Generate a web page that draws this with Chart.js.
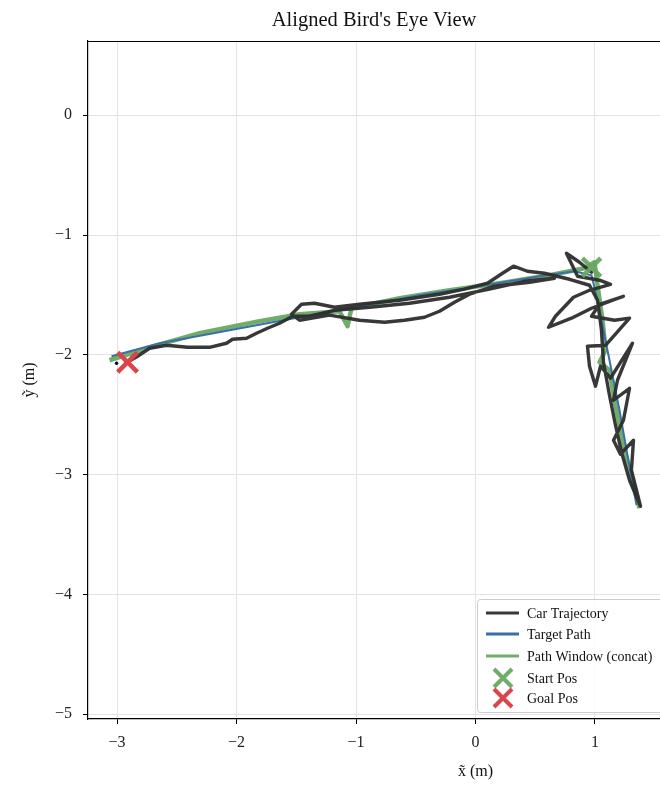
<!DOCTYPE html>
<html>
<head>
<meta charset="utf-8">
<script src="https://cdn.jsdelivr.net/npm/chart.js@4"></script>
<style>
html,body{margin:0;padding:0;background:#fff;overflow:hidden;}
#wrap{width:660px;height:788px;position:relative;}
</style>
</head>
<body>
<div id="wrap"><canvas id="c" width="660" height="788"></canvas></div>
<script>
// ---- data (metres) ----
const carX = [0.971,0.870,0.761,0.854,1.038,1.130,0.954,0.820,0.669,0.611,0.803,0.971,1.238,1.038,0.971,1.163,1.289,1.088,0.937,0.954,1.004,1.046,1.130,1.314,1.188,1.155,1.289,1.238,1.155,1.213,1.322,1.305,1.381,1.289,1.222,1.172,1.121,1.071,1.054,1.021,0.954,0.787,0.577,0.435,0.318,0.226,0.100,-0.092,-0.301,-0.636,-0.971,-1.180,-1.347,-1.456,-1.540,-1.473,-1.222,-0.971,-0.761,-0.594,-0.427,-0.301,-0.176,-0.050,0.159,0.452,0.661,0.410,0.117,-0.218,-0.552,-0.887,-1.180,-1.389,-1.531,-1.640,-1.741,-1.833,-1.916,-2.033,-2.084,-2.226,-2.410,-2.586,-2.728,-2.828,-2.929];
const carY = [-1.310,-1.227,-1.152,-1.344,-1.377,-1.411,-1.461,-1.519,-1.678,-1.770,-1.694,-1.611,-1.511,-1.578,-1.678,-1.711,-1.694,-1.920,-1.928,-2.095,-2.262,-2.095,-2.195,-1.903,-2.212,-2.379,-2.279,-2.546,-2.713,-2.830,-2.713,-2.963,-3.264,-3.047,-2.813,-2.588,-2.337,-2.062,-1.795,-1.544,-1.419,-1.369,-1.319,-1.302,-1.260,-1.319,-1.402,-1.452,-1.494,-1.544,-1.578,-1.603,-1.569,-1.578,-1.661,-1.711,-1.669,-1.711,-1.728,-1.711,-1.686,-1.636,-1.561,-1.494,-1.427,-1.394,-1.361,-1.386,-1.452,-1.519,-1.569,-1.603,-1.628,-1.678,-1.678,-1.736,-1.778,-1.820,-1.861,-1.870,-1.903,-1.937,-1.937,-1.920,-1.945,-2.012,-2.070];
const carEnd = [-3.004, -2.070];

const targetX = [-3.046,-2.644,-2.059,-1.473,-0.971,-0.469,0.033,0.536,0.828,0.971,1.021,1.071,1.138,1.205,1.272,1.347];
const targetY = [-2.012,-1.903,-1.795,-1.686,-1.594,-1.503,-1.427,-1.344,-1.302,-1.336,-1.544,-1.795,-2.129,-2.462,-2.838,-3.255];

const windowX = [-3.063,-2.728,-2.310,-1.808,-1.473,-1.138,-1.071,-1.038,-0.636,-0.218,0.201,0.619,0.912,0.996,1.021,1.063,1.088,1.038,1.121,1.163,1.247,1.314,1.372];
const windowY = [-2.045,-1.937,-1.820,-1.720,-1.661,-1.636,-1.761,-1.611,-1.528,-1.461,-1.402,-1.336,-1.277,-1.227,-1.419,-1.711,-1.962,-2.062,-2.129,-2.379,-2.796,-3.047,-3.280];

const startPos = [0.971, -1.269];
const goalPos = [-2.912, -2.062];

const xTicks = [-3,-2,-1,0,1];
const yTicks = [0,-1,-2,-3,-4,-5];

const labels = ["Car Trajectory","Target Path","Path Window (concat)","Start Pos","Goal Pos"];
const titleText = "Aligned Bird's Eye View";
const xTitle = "x\u0303 (m)";
const yTitle = "y\u0303 (m)";

// ---- styles ----
const C_BLACK = "rgba(45,45,45,0.95)";
const C_BLUE = "#3b6fa6";
const C_GREEN = "rgba(104,168,98,0.95)";
const C_RED = "#d9454a";
const FONT = "'Liberation Serif', 'DejaVu Serif', serif";

const pts = (xs, ys) => xs.map((x, i) => ({x: x, y: ys[i]}));
const minus = v => String(v).replace('-', '\u2212');

const overlay = {
  id: 'overlay',
  afterDraw(chart) {
    const ctx = chart.ctx, a = chart.chartArea;
    ctx.save();
    // top border
    ctx.strokeStyle = '#000'; ctx.lineWidth = 1.2;
    ctx.beginPath(); ctx.moveTo(a.left, a.top + 0.5); ctx.lineTo(a.right, a.top + 0.5); ctx.stroke();
    // title
    ctx.fillStyle = '#111';
    ctx.font = "20.5px " + FONT;
    ctx.textAlign = 'center'; ctx.textBaseline = 'middle';
    ctx.fillText(titleText, (a.left + a.right) / 2, 21);
    // axis titles
    ctx.font = "16px " + FONT;
    ctx.fillText(xTitle, chart.scales.x.getPixelForValue(0), 772);
    ctx.save();
    ctx.translate(30, (a.top + a.bottom) / 2);
    ctx.rotate(-Math.PI / 2);
    ctx.fillText(yTitle, 0, 0);
    ctx.restore();
    // legend
    const bx = 477, by = 599, bw = 200, bh = 113;
    ctx.fillStyle = 'rgba(255,255,255,0.85)';
    ctx.strokeStyle = '#cccccc'; ctx.lineWidth = 1;
    ctx.beginPath();
    if (ctx.roundRect) ctx.roundRect(bx + 0.5, by + 0.5, bw, bh, 3); else ctx.rect(bx + 0.5, by + 0.5, bw, bh);
    ctx.fill(); ctx.stroke();
    const rows = [613, 634, 656, 678, 698];
    const lx0 = 486, lx1 = 519, tx = 527;
    const lineStyles = [[C_BLACK, 3], [C_BLUE, 3], [C_GREEN, 3]];
    ctx.lineCap = 'butt';
    for (let i = 0; i < 3; i++) {
      ctx.strokeStyle = lineStyles[i][0]; ctx.lineWidth = lineStyles[i][1];
      ctx.beginPath(); ctx.moveTo(lx0, rows[i]); ctx.lineTo(lx1, rows[i]); ctx.stroke();
    }
    const cross = (cx, cy, r, col) => {
      ctx.strokeStyle = col; ctx.lineWidth = 4;
      ctx.beginPath();
      ctx.moveTo(cx - r, cy - r); ctx.lineTo(cx + r, cy + r);
      ctx.moveTo(cx - r, cy + r); ctx.lineTo(cx + r, cy - r);
      ctx.stroke();
    };
    cross(503, rows[3], 9, C_GREEN);
    cross(503, rows[4], 9, C_RED);
    ctx.fillStyle = '#111';
    ctx.font = "14px " + FONT;
    ctx.textAlign = 'left'; ctx.textBaseline = 'middle';
    for (let i = 0; i < 5; i++) ctx.fillText(labels[i], tx, rows[i] + 1);
    ctx.restore();
  }
};

new Chart(document.getElementById('c'), {
  type: 'scatter',
  data: {
    datasets: [
      {label: labels[3], data: [{x: startPos[0], y: startPos[1]}], pointStyle: 'crossRot', pointRadius: 13, pointBorderWidth: 4.5, borderColor: C_GREEN, backgroundColor: C_GREEN, showLine: false},
      {label: labels[4], data: [{x: goalPos[0], y: goalPos[1]}], pointStyle: 'crossRot', pointRadius: 14, pointBorderWidth: 4.5, borderColor: C_RED, backgroundColor: C_RED, showLine: false},
      {label: 'end', data: [{x: carEnd[0], y: carEnd[1]}], pointStyle: 'circle', pointRadius: 1.8, borderWidth: 0, backgroundColor: '#111', showLine: false},
      {label: labels[0], data: pts(carX, carY), showLine: true, borderColor: C_BLACK, borderWidth: 3.4, pointRadius: 0, tension: 0, borderJoinStyle: 'round', borderCapStyle: 'round'},
      {label: labels[1], data: pts(targetX, targetY), showLine: true, borderColor: C_BLUE, borderWidth: 2, pointRadius: 0},
      {label: labels[2], data: pts(windowX, windowY), showLine: true, borderColor: C_GREEN, borderWidth: 4.5, pointRadius: 0, borderJoinStyle: 'round'}
    ]
  },
  options: {
    responsive: false,
    animation: false,
    events: [],
    layout: {autoPadding: false, padding: {top: 41, left: 0, right: 0, bottom: 0}},
    plugins: {legend: {display: false}, tooltip: {enabled: false}, title: {display: false}},
    scales: {
      x: {
        type: 'linear', min: -3.243, max: 1.544,
        afterFit(s) { s.height = 69; s.paddingRight = 0; s.paddingLeft = 0; },
        afterBuildTicks(s) { s.ticks = xTicks.map(v => ({value: v})); },
        ticks: {includeBounds: false, font: {family: FONT, size: 16}, color: '#222', padding: 9, maxRotation: 0, callback: v => minus(v)},
        grid: {color: '#e3e3e3', lineWidth: 1, tickLength: 5, tickColor: '#000', drawTicks: true},
        border: {display: true, color: '#000', width: 1.2}
      },
      y: {
        type: 'linear', min: -5.04, max: 0.62,
        afterFit(s) { s.width = 88; s.paddingTop = 0; s.paddingBottom = 0; },
        afterBuildTicks(s) { s.ticks = yTicks.map(v => ({value: v})); },
        ticks: {includeBounds: false, font: {family: FONT, size: 16}, color: '#222', padding: 11, callback: v => minus(v)},
        grid: {color: '#e3e3e3', lineWidth: 1, tickLength: 5, tickColor: '#000', drawTicks: true},
        border: {display: true, color: '#000', width: 1.2}
      }
    }
  },
  plugins: [overlay]
});
</script>
</body>
</html>
